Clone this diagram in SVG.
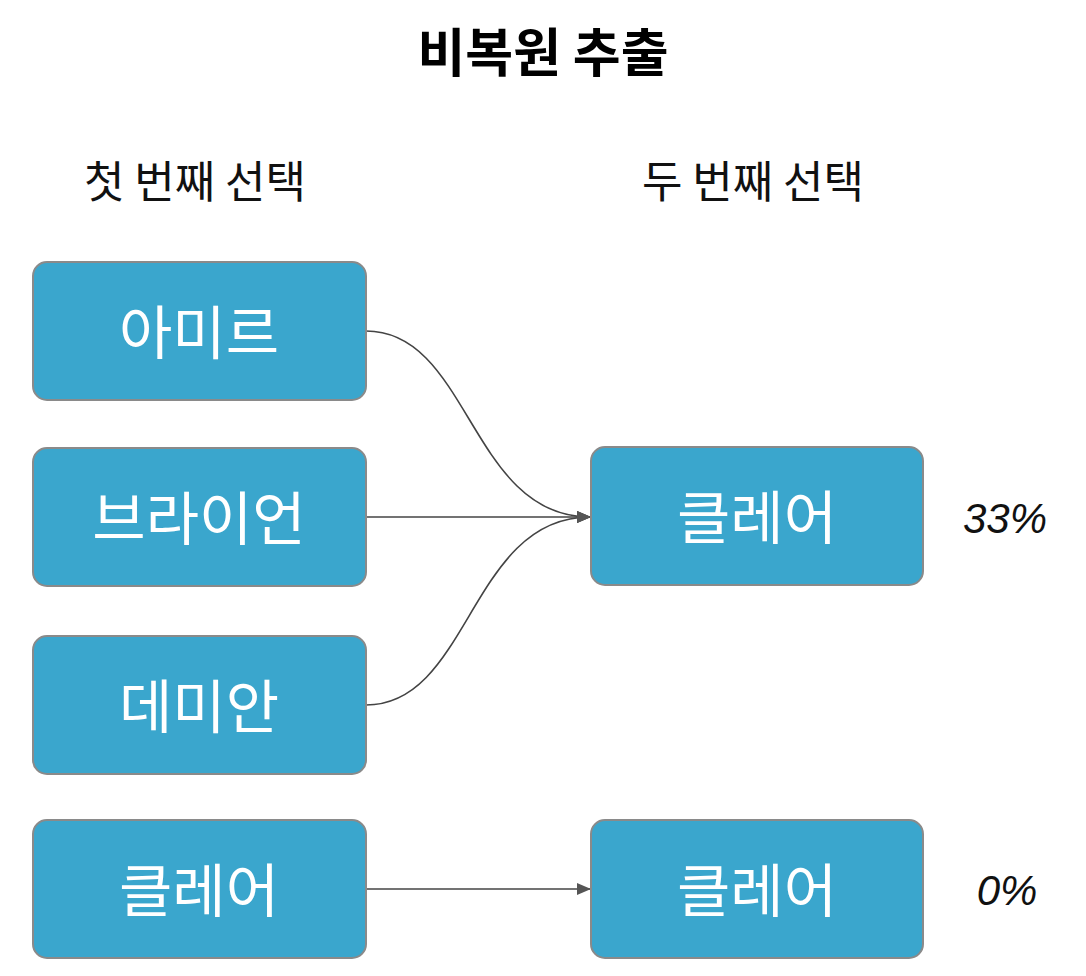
<svg xmlns="http://www.w3.org/2000/svg" width="1086" height="976" viewBox="0 0 1086 976">
<style>
.box{fill:#3aa6cd;stroke:#8a8a8a;stroke-width:2}
.lbl{fill:#fff;font-family:"Noto Sans CJK KR",sans-serif;font-size:58px;text-anchor:middle;dominant-baseline:central}
.hd{fill:#111;font-family:"Noto Sans CJK KR",sans-serif;font-size:44px;text-anchor:middle}
.pc{fill:#111;font-family:"Liberation Sans",sans-serif;font-style:italic;font-size:42px;text-anchor:middle}
.c{fill:none;stroke:#444;stroke-width:1.6}
</style>
<defs><marker id="a" markerWidth="14" markerHeight="12" refX="13" refY="6" orient="auto" markerUnits="userSpaceOnUse"><path d="M0,0L14,6L0,12z" fill="#555"/></marker></defs>
<rect width="1086" height="976" fill="#fff"/>
<text x="543" y="72" font-family="Noto Sans CJK KR,sans-serif" font-weight="bold" font-size="52" text-anchor="middle" fill="#000">비복원 추출</text>
<text class="hd" x="195" y="198">첫 번째 선택</text>
<text class="hd" x="753" y="198">두 번째 선택</text>
<g id="connectors">
<path class="c" d="M366,331 C470,331 470,517 590,517" marker-end="url(#a)"/>
<path class="c" d="M366,517 L590,517" marker-end="url(#a)"/>
<path class="c" d="M366,705 C470,705 470,517 590,517" marker-end="url(#a)"/>
<path class="c" d="M366,889 L590,889" marker-end="url(#a)"/>
</g>
<g id="n1"><rect class="box" x="33" y="262" width="333" height="138" rx="14"/><text class="lbl" x="199" y="329">아미르</text></g>
<g id="n2"><rect class="box" x="33" y="448" width="333" height="138" rx="14"/><text class="lbl" x="199" y="515">브라이언</text></g>
<g id="n3"><rect class="box" x="33" y="636" width="333" height="138" rx="14"/><text class="lbl" x="199" y="703">데미안</text></g>
<g id="n4"><rect class="box" x="33" y="820" width="333" height="138" rx="14"/><text class="lbl" x="199" y="887">클레어</text></g>
<g id="n5"><rect class="box" x="591" y="447" width="332" height="138" rx="14"/><text class="lbl" x="757" y="514">클레어</text></g>
<g id="n6"><rect class="box" x="591" y="820" width="332" height="138" rx="14"/><text class="lbl" x="757" y="887">클레어</text></g>
<text class="pc" x="1005" y="533">33%</text>
<text class="pc" x="1007" y="905">0%</text>
</svg>
